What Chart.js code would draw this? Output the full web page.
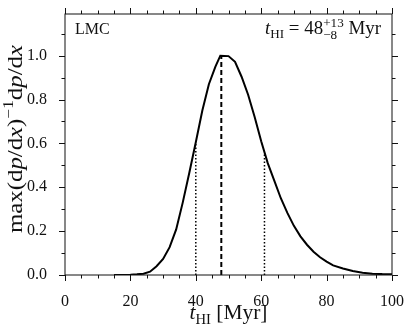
<!DOCTYPE html>
<html>
<head>
<meta charset="utf-8">
<script src="https://cdn.jsdelivr.net/npm/chart.js@4"></script>
<style>
  html, body { margin: 0; padding: 0; background: #fff; }
  #wrap { width: 412px; height: 333px; }
</style>
</head>
<body>
<div id="wrap"><canvas id="c"></canvas></div>
<script>
// t_HI grid [Myr] and normalised dp/dx
const tValues   = [15, 18, 20, 22, 24, 26, 28, 30, 32, 34, 36, 38, 40, 42, 44, 46, 47.5, 50, 52, 54, 56, 58, 60, 62, 64, 66, 68, 70, 72, 74, 76, 78, 80, 82, 85, 88, 91, 94, 97, 100];
const pdfValues = [0, 0.0005, 0.001, 0.003, 0.006, 0.015, 0.04, 0.073, 0.127, 0.208, 0.33, 0.465, 0.605, 0.75, 0.87, 0.95, 1.0, 0.998, 0.972, 0.904, 0.822, 0.72, 0.61, 0.51, 0.43, 0.35, 0.283, 0.224, 0.176, 0.138, 0.106, 0.081, 0.061, 0.044, 0.03, 0.018, 0.01, 0.006, 0.004, 0.003];

// median and 16/84 percentile markers
const tMedian = 47.8, pdfAtMedian = 1.0;
const tLow = 40, pdfAtLow = 0.605;
const tHigh = 61, pdfAtHigh = 0.556;

const xTicks = [0, 20, 40, 60, 80, 100];
const yTicks = [0, 0.2, 0.4, 0.6, 0.8, 1.0];
const xMinorStep = 5, yMinorStep = 0.1;

const SERIF = '"Liberation Serif", "DejaVu Serif", serif';

function vline(x, y) {
  return [{x: x, y: 0}, {x: x, y: y}];
}

// draw a row of text pieces with different fonts / offsets
// optional width: stretch the row along its direction to that width
function drawRuns(ctx, runs, x, y, align, width) {
  let total = 0;
  runs.forEach(r => {
    ctx.font = r.f;
    r.w = ctx.measureText(r.t).width;
    r.adv = r.adv !== undefined ? r.adv : r.w;
  });
  runs.forEach(r => {
    if (r.stackWith !== undefined) r.adv = Math.max(r.w, runs[r.stackWith].w);
    total += r.adv;
  });
  const k = width ? width / total : 1;
  ctx.save();
  ctx.translate(x, y);
  ctx.scale(k, 1);
  let cx = align === 'right' ? -total : align === 'center' ? -total / 2 : 0;
  runs.forEach(r => {
    ctx.font = r.f;
    ctx.fillText(r.t, cx, r.dy || 0);
    cx += r.adv;
  });
  ctx.restore();
}

const frameTicks = {
  id: 'frameTicks',
  afterDraw(chart) {
    const ctx = chart.ctx, a = chart.chartArea;
    const xs = chart.scales.x, ys = chart.scales.y;
    ctx.save();
    ctx.strokeStyle = '#111';
    ctx.lineWidth = 1;
    ctx.strokeRect(a.left, a.top, a.right - a.left, a.bottom - a.top);
    ctx.beginPath();
    for (let v = xs.min; v <= xs.max + 1e-9; v += xMinorStep) {
      const px = Math.round(xs.getPixelForValue(v)) + 0.5;
      const len = Math.abs(v % 20) < 1e-6 ? 6 : 3.5;
      ctx.moveTo(px, a.bottom); ctx.lineTo(px, a.bottom + len);
      ctx.moveTo(px, a.top); ctx.lineTo(px, a.top - len);
    }
    for (let k = 0; k * yMinorStep <= ys.max + 1e-9; k++) {
      const v = k * yMinorStep;
      const py = Math.round(ys.getPixelForValue(v)) + 0.5;
      const len = k % 2 === 0 ? 6 : 3.5;
      ctx.moveTo(a.left, py); ctx.lineTo(a.left - len, py);
      ctx.moveTo(a.right, py); ctx.lineTo(a.right + len, py);
    }
    ctx.stroke();

    ctx.fillStyle = '#111';
    ctx.textBaseline = 'alphabetic';
    ctx.textAlign = 'left';
    // panel label
    ctx.font = '16px ' + SERIF;
    ctx.fillText('LMC', a.left + 10, a.top + 20);

    // result label
    const big = '18px ' + SERIF, bigI = 'italic 18px ' + SERIF, small = '12.5px ' + SERIF;
    drawRuns(ctx, [
      {t: 't', f: bigI},
      {t: 'HI', f: small, dy: 4},
      {t: ' = 48', f: big},
      {t: '+13', f: small, dy: -7, adv: 0},
      {t: '\u22128', f: small, dy: 5, stackWith: 3},
      {t: ' Myr', f: big}
    ], a.right - 11, a.top + 20, 'right', 116);

    // x title
    drawRuns(ctx, [
      {t: 't', f: 'italic 22px ' + SERIF},
      {t: 'HI', f: '15px ' + SERIF, dy: 5},
      {t: ' [Myr]', f: '22px ' + SERIF}
    ], (a.left + a.right) / 2, 319, 'center', 78);

    // y title (rotated)
    ctx.translate(22, 139);
    ctx.rotate(-Math.PI / 2);
    const r = '20px ' + SERIF, it = 'italic 20px ' + SERIF, sup = '14px ' + SERIF;
    drawRuns(ctx, [
      {t: 'max(d', f: r}, {t: 'p', f: it}, {t: '/d', f: r}, {t: 'x', f: it}, {t: ')', f: r},
      {t: '\u22121', f: sup, dy: -9},
      {t: 'd', f: r}, {t: 'p', f: it}, {t: '/d', f: r}, {t: 'x', f: it}
    ], 0, 0, 'center', 188);
    ctx.restore();
  }
};

const lineStyle = {borderColor: '#000', pointRadius: 0, showLine: true, tension: 0, fill: false};

new Chart(document.getElementById('c'), {
  type: 'scatter',
  data: {
    datasets: [
      Object.assign({
        label: 'pdf',
        data: tValues.map((t, i) => ({x: t, y: pdfValues[i]})),
        borderWidth: 2
      }, lineStyle),
      Object.assign({
        label: 'median',
        data: vline(tMedian, pdfAtMedian),
        borderWidth: 2,
        borderDash: [5, 3]
      }, lineStyle),
      Object.assign({
        label: 'low',
        data: vline(tLow, pdfAtLow),
        borderWidth: 1.5,
        borderDash: [1.5, 2]
      }, lineStyle),
      Object.assign({
        label: 'high',
        data: vline(tHigh, pdfAtHigh),
        borderWidth: 1.5,
        borderDash: [1.5, 2]
      }, lineStyle)
    ]
  },
  options: {
    responsive: true,
    maintainAspectRatio: false,
    animation: false,
    layout: {padding: {top: 14, right: 20, left: 0, bottom: 0}},
    plugins: {legend: {display: false}, tooltip: {enabled: false}},
    scales: {
      x: {
        type: 'linear', min: 0, max: 100,
        afterBuildTicks: s => { s.ticks = xTicks.map(v => ({value: v})); },
        afterFit: s => { s.height = 58; s.paddingLeft = 0; s.paddingRight = 0; },
        grid: {display: false},
        border: {display: false},
        ticks: {color: '#111', padding: 9, font: {family: SERIF, size: 16}, maxRotation: 0}
      },
      y: {
        type: 'linear', min: 0, max: 1.19,
        afterBuildTicks: s => { s.ticks = yTicks.map(v => ({value: v})); },
        afterFit: s => { s.width = 65; s.paddingTop = 0; s.paddingBottom = 0; },
        grid: {display: false},
        border: {display: false},
        ticks: {color: '#111', padding: 10, font: {family: SERIF, size: 16}, callback: v => v.toFixed(1)}
      }
    }
  },
  plugins: [frameTicks]
});
</script>
</body>
</html>
